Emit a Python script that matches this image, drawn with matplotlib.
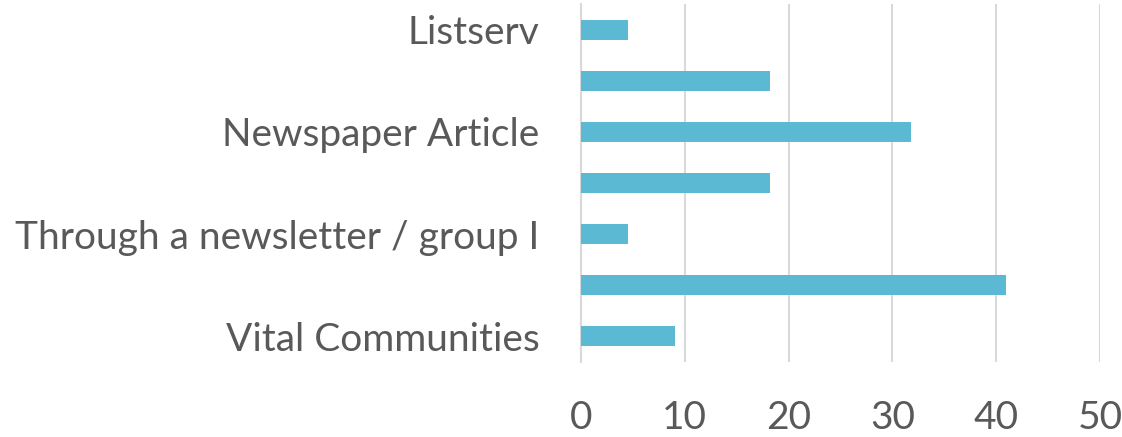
import numpy as np
import matplotlib
matplotlib.use("Agg")
import matplotlib.pyplot as plt

# --------------------------------------------------
# DATA (top to bottom, as in the chart)
# --------------------------------------------------

categories = ["Listserv", "", "Newspaper Article", "", "Through a newsletter / group I", "", "Vital Communities"]
values = [4.5, 18.2, 31.8, 18.2, 4.5, 40.9, 9.1]
x_ticks = [0, 10, 20, 30, 40, 50]

BAR_COLOR = "#5BB9D3"
GRID_COLOR = "#D9D9D9"
TEXT_COLOR = "#595959"

plt.rcParams["font.family"] = ["Lato", "DejaVu Sans"]

fig = plt.figure(figsize=(11.22, 4.37), dpi=100)
ax = fig.add_axes([0.5178, 0.1716, 0.9804 - 0.5178, 0.9908 - 0.1716])

y = np.arange(len(categories))
ax.barh(y, values, height=0.39, color=BAR_COLOR, zorder=3)

ax.set_ylim(len(categories) - 0.5, -0.5)
ax.set_xlim(0, 50)
ax.set_xticks(x_ticks)
ax.set_yticks(y)
ax.set_yticklabels(categories)

ax.grid(axis="x", color=GRID_COLOR, linewidth=1.5, zorder=0)
for s in ["top", "right", "bottom"]:
    ax.spines[s].set_visible(False)
ax.spines["left"].set_color(GRID_COLOR)
ax.spines["left"].set_linewidth(1.5)

ax.tick_params(axis="y", length=0, pad=30, labelsize=28, labelcolor=TEXT_COLOR)
ax.tick_params(axis="x", length=0, pad=27, labelsize=28, labelcolor=TEXT_COLOR)

fig.savefig("out.png", dpi=100)
